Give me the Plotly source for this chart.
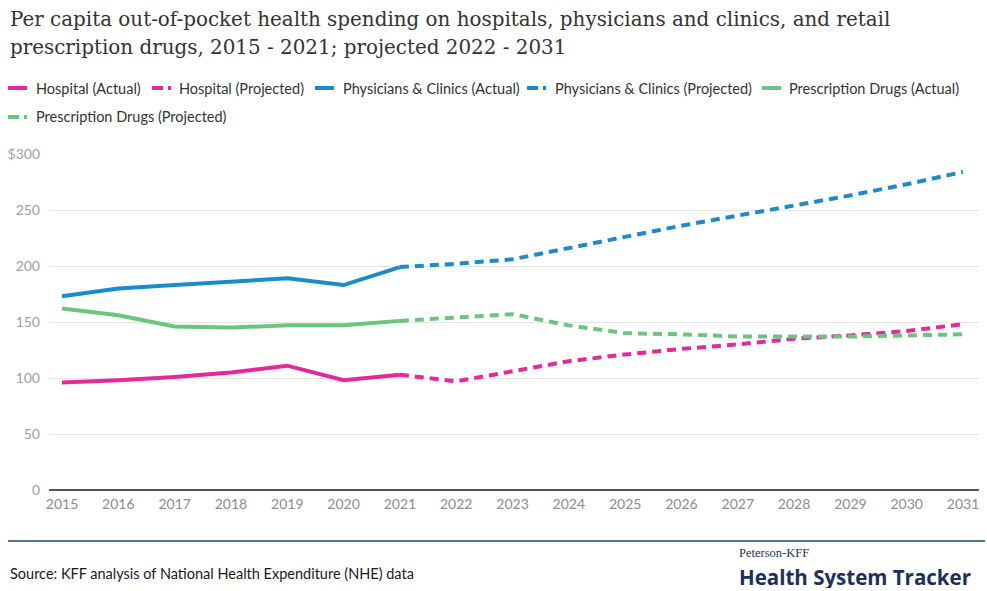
import plotly.graph_objects as go

years_actual = [2015, 2016, 2017, 2018, 2019, 2020, 2021]
years_proj = [2021, 2022, 2023, 2024, 2025, 2026, 2027, 2028, 2029, 2030, 2031]

hosp_actual = [96, 98, 101, 105, 111, 98, 103]
hosp_proj = [103, 97, 106, 115, 121, 126, 130, 135, 138, 142, 148]
phys_actual = [173, 180, 183, 186, 189, 183, 199]
phys_proj = [199, 202, 206, 216, 226, 236, 245, 254, 263, 273, 284]
drug_actual = [162, 156, 146, 145, 147, 147, 151]
drug_proj = [151, 154, 157, 147, 140, 139, 137, 137, 137, 138, 139]

tick_years = list(range(2015, 2032))
y_ticks = [0, 50, 100, 150, 200, 250, 300]
y_ticklabels = ["0", "50", "100", "150", "200", "250", "$300"]

PINK = "#e5289a"
BLUE = "#1b8bcc"
GREEN = "#6cc57e"
SANS = "Lato, 'Open Sans', sans-serif"
SERIF = "'DejaVu Serif', serif"

W, H = 987, 591
L, R, T, B = 49, 8, 154, 101
PW, PH = W - L - R, H - T - B


def px(x):
    return (x - L) / PW


def py(y):
    return (H - B - y) / PH


fig = go.Figure()
series = [
    ("Hospital (Actual)", years_actual, hosp_actual, PINK, None),
    ("Hospital (Projected)", years_proj, hosp_proj, PINK, "9px,6px"),
    ("Physicians & Clinics (Actual)", years_actual, phys_actual, BLUE, None),
    ("Physicians & Clinics (Projected)", years_proj, phys_proj, BLUE, "9px,6px"),
    ("Prescription Drugs (Actual)", years_actual, drug_actual, GREEN, None),
    ("Prescription Drugs (Projected)", years_proj, drug_proj, GREEN, "9px,6px"),
]
for name, xs, ys, col, dash in series:
    fig.add_trace(go.Scatter(x=xs, y=ys, name=name, mode="lines",
                             line=dict(color=col, width=4, dash=dash),
                             showlegend=False, cliponaxis=False))

shapes = []
annotations = []

# Title
annotations.append(dict(x=px(8), y=py(19), xref="paper", yref="paper", xanchor="left", yanchor="middle",
                        showarrow=False, text="Per capita out-of-pocket health spending on hospitals, physicians and clinics, and retail",
                        font=dict(family=SERIF, size=19.9, color="#333333")))
annotations.append(dict(x=px(8), y=py(47), xref="paper", yref="paper", xanchor="left", yanchor="middle",
                        showarrow=False, text="prescription drugs, 2015 - 2021; projected 2022 - 2031",
                        font=dict(family=SERIF, size=19.9, color="#333333")))

# Manual legend
legend_pos = [
    (8, 34, 88), (152, 177, 88), (315, 341, 88), (527, 553, 88), (762, 787, 88), (8, 34, 117)
]
for (name, xs, ys, col, dash), (sx, tx, ly) in zip(series, legend_pos):
    if dash is None:
        shapes.append(dict(type="line", xref="paper", yref="paper", x0=px(sx), x1=px(sx + 19),
                           y0=py(ly), y1=py(ly), line=dict(color=col, width=4)))
    else:
        shapes.append(dict(type="line", xref="paper", yref="paper", x0=px(sx), x1=px(sx + 11),
                           y0=py(ly), y1=py(ly), line=dict(color=col, width=4)))
        shapes.append(dict(type="line", xref="paper", yref="paper", x0=px(sx + 16), x1=px(sx + 19),
                           y0=py(ly), y1=py(ly), line=dict(color=col, width=4)))
    annotations.append(dict(x=px(tx), y=py(ly), xref="paper", yref="paper", xanchor="left", yanchor="middle",
                            showarrow=False, text=name, font=dict(family=SANS, size=14.5, color="#333333")))

# Rule
shapes.append(dict(type="line", xref="paper", yref="paper", x0=px(8), x1=px(985),
                   y0=py(541), y1=py(541), line=dict(color="#56709a", width=2)))

# Source
annotations.append(dict(x=px(8), y=py(573), xref="paper", yref="paper", xanchor="left", yanchor="middle",
                        showarrow=False, text="Source: KFF analysis of National Health Expenditure (NHE) data",
                        font=dict(family=SANS, size=14.5, color="#1a1a1a")))
# Logo
annotations.append(dict(x=px(737), y=py(553), xref="paper", yref="paper", xanchor="left", yanchor="middle",
                        showarrow=False, text="Peterson-KFF", height=14, valign="middle",
                        font=dict(family="'Liberation Serif', serif", size=12.5, color="#1d3461")))
annotations.append(dict(x=px(737), y=py(577), xref="paper", yref="paper", xanchor="left", yanchor="middle",
                        showarrow=False, text="<b>Health System Tracker</b>", height=22, valign="middle",
                        font=dict(family="'Open Sans', sans-serif", size=20.5, color="#1c2f5e")))

fig.update_layout(
    width=W, height=H,
    margin=dict(l=L, r=R, t=T, b=B, pad=0),
    paper_bgcolor="white", plot_bgcolor="white",
    showlegend=False,
    shapes=shapes, annotations=annotations,
    xaxis=dict(range=[2015 - 13 / 56.31, 2031 + 16 / 56.31], tickvals=tick_years,
               ticktext=[str(y) for y in tick_years], showgrid=False, zeroline=False,
               showline=False, ticks="", tickfont=dict(family=SANS, size=14, color="#8c8c8c"),
               ticklabelstandoff=4),
    yaxis=dict(range=[0, 300], tickvals=y_ticks, ticktext=y_ticklabels, showgrid=True,
               gridcolor="#e6e6e6", gridwidth=1, zeroline=True, zerolinecolor="#555555",
               zerolinewidth=2, showline=False, ticks="",
               tickfont=dict(family=SANS, size=14, color="#a0a0a0"), ticklabelstandoff=8),
)

fig.write_html("out.html")
